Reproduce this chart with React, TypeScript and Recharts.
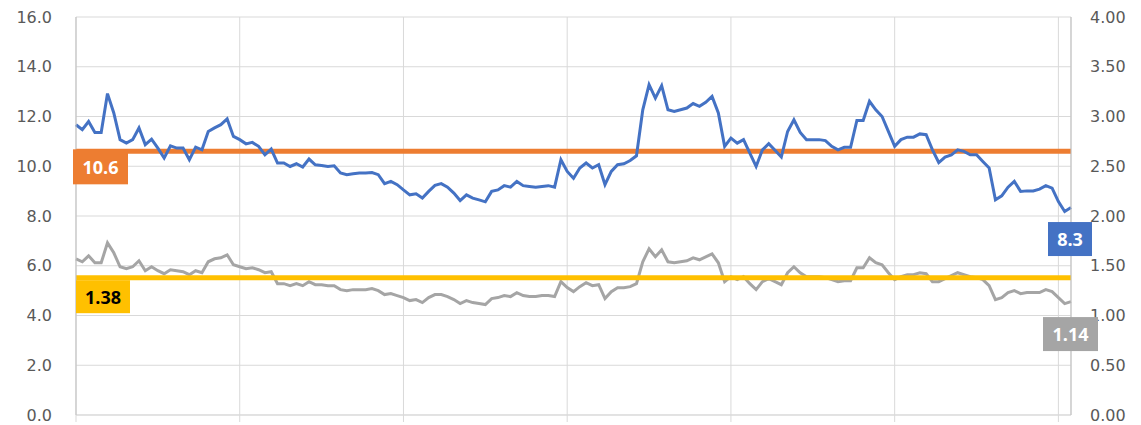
import React from 'react'
import { LineChart, Line, XAxis, YAxis, CartesianGrid } from 'recharts'

// blue series, left axis
const BLUE = [
  11.67, 11.47, 11.8, 11.36, 11.36, 12.92, 12.14, 11.07, 10.93, 11.07,
  11.54, 10.87, 11.09, 10.73, 10.33, 10.82, 10.73, 10.73, 10.26, 10.77,
  10.66, 11.4, 11.54, 11.67, 11.9, 11.2, 11.07, 10.9,
  10.96, 10.8, 10.46, 10.69, 10.13, 10.13, 9.99, 10.1, 9.97, 10.29,
  10.06, 10.03, 9.99, 10.02, 9.73, 9.66, 9.7, 9.73, 9.73, 9.75,
  9.66, 9.3, 9.39, 9.26, 9.05, 8.85, 8.89, 8.72, 8.99, 9.23,
  9.3, 9.16, 8.92, 8.62, 8.85, 8.72, 8.65, 8.57, 8.99, 9.05,
  9.22, 9.16, 9.39, 9.22, 9.19, 9.16, 9.19, 9.22, 9.16, 10.26,
  9.79, 9.52, 9.93, 10.13, 9.93, 10.06, 9.26, 9.79, 10.06, 10.1,
  10.23, 10.42, 12.27, 13.28, 12.74, 13.24, 12.27, 12.2, 12.27, 12.34,
  12.52, 12.41, 12.57, 12.81, 12.14, 10.8, 11.13, 10.93, 11.07, 10.53,
  9.99, 10.66, 10.91, 10.64, 10.37, 11.4, 11.87, 11.36, 11.07, 11.07,
  11.07, 11.03, 10.8, 10.66, 10.76, 10.76, 11.84, 11.84, 12.61, 12.27,
  12.0, 11.4, 10.8, 11.07, 11.17, 11.17, 11.3, 11.27, 10.66, 10.15,
  10.37, 10.46, 10.66, 10.6, 10.46, 10.46, 10.19, 9.93, 8.65, 8.81,
  9.16, 9.39, 8.99, 9.01, 9.01, 9.08, 9.22, 9.12, 8.58, 8.18,
  8.34,
]

// gray series, right axis
const GRAY = [
  1.57, 1.54, 1.6, 1.53, 1.53, 1.73, 1.63, 1.49, 1.47, 1.49,
  1.55, 1.45, 1.49, 1.45, 1.42, 1.46, 1.45, 1.44, 1.41, 1.45,
  1.43, 1.54, 1.57, 1.58, 1.61, 1.51, 1.49, 1.47,
  1.48, 1.46, 1.43, 1.44, 1.32, 1.32, 1.3, 1.32, 1.3, 1.34,
  1.31, 1.31, 1.3, 1.3, 1.26, 1.25, 1.26, 1.26, 1.26, 1.27,
  1.25, 1.21, 1.22, 1.2, 1.18, 1.15, 1.16, 1.13, 1.18, 1.21,
  1.21, 1.19, 1.16, 1.12, 1.15, 1.13, 1.12, 1.11, 1.17, 1.18,
  1.2, 1.19, 1.23, 1.2, 1.19, 1.19, 1.2, 1.2, 1.19, 1.34,
  1.28, 1.24, 1.29, 1.33, 1.3, 1.31, 1.17, 1.24, 1.28, 1.28,
  1.29, 1.32, 1.54, 1.67, 1.59, 1.66, 1.54, 1.53, 1.54, 1.55,
  1.58, 1.56, 1.59, 1.62, 1.53, 1.34, 1.39, 1.36, 1.39, 1.32,
  1.26, 1.34, 1.37, 1.34, 1.31, 1.43, 1.49, 1.43, 1.39, 1.39,
  1.39, 1.38, 1.36, 1.34, 1.35, 1.35, 1.48, 1.48, 1.58, 1.53,
  1.51, 1.43, 1.36, 1.39, 1.41, 1.41, 1.43, 1.42, 1.34, 1.34,
  1.37, 1.4, 1.43, 1.41, 1.39, 1.38, 1.36, 1.3, 1.16, 1.18,
  1.23, 1.25, 1.22, 1.23, 1.23, 1.23, 1.26, 1.24, 1.18, 1.12,
  1.14,
]

const ORANGE_LEVEL = 10.6 // left axis
const YELLOW_LEVEL = 1.38 // right axis

const LEFT_TICKS = [0, 2, 4, 6, 8, 10, 12, 14, 16]
const RIGHT_TICKS = [0, 0.5, 1, 1.5, 2, 2.5, 3, 3.5, 4]
const X_TICKS = [0, 26, 52, 78, 104, 130, 156]

const data = BLUE.map((v, i) => ({
  i,
  blue: v,
  gray: GRAY[i],
  orange: ORANGE_LEVEL,
  yellow: YELLOW_LEVEL,
}))
const LAST = data.length - 1

const tickStyle = { fontFamily: 'DejaVu Sans', fontSize: 16, fill: '#595959' }

// little Excel-style value box, drawn for one point of a series only
function tag(atIndex: number, text: string, fill: string, color: string, dx: number, dy: number, w: number, h: number) {
  return (props: any) => {
    if (props.index !== atIndex) return null
    const x = Number(props.x) + dx
    const y = Number(props.y) + dy
    return (
      <g>
        <rect x={x} y={y} width={w} height={h} fill={fill} />
        <text
          x={x + w / 2}
          y={y + h / 2}
          textAnchor="middle"
          dominantBaseline="central"
          fontFamily="Open Sans"
          fontWeight={700}
          fontSize={18}
          fill={color}
        >
          {text}
        </text>
      </g>
    )
  }
}

export default function App() {
  return (
    <div style={{ position: 'absolute', left: 0, top: 0, background: '#fff' }}>
      <LineChart width={1141} height={425} data={data} margin={{ top: 17, right: 0, bottom: 0, left: 0 }}>
        <CartesianGrid yAxisId="left" stroke="#D9D9D9" strokeWidth={1} />
        <XAxis
          dataKey="i"
          type="number"
          domain={[0, LAST]}
          ticks={X_TICKS}
          height={10}
          tickFormatter={() => ''}
          tickSize={7}
          tickLine={{ stroke: '#D9D9D9' }}
          axisLine={{ stroke: '#D9D9D9' }}
        />
        <YAxis
          yAxisId="left"
          orientation="left"
          domain={[0, 16]}
          ticks={LEFT_TICKS}
          width={76}
          tickLine={false}
          tickSize={0}
          tickMargin={24}
          axisLine={{ stroke: '#BFBFBF' }}
          tick={tickStyle}
          tickFormatter={(v: number) => v.toFixed(1)}
        />
        <YAxis
          yAxisId="right"
          orientation="right"
          domain={[0, 4]}
          ticks={RIGHT_TICKS}
          width={70}
          tickLine={false}
          tickSize={0}
          tickMargin={19}
          axisLine={{ stroke: '#BFBFBF' }}
          tick={{ ...tickStyle, textAnchor: 'start' }}
          tickFormatter={(v: number) => v.toFixed(2)}
        />
        <Line
          yAxisId="right"
          dataKey="gray"
          stroke="#A5A5A5"
          strokeWidth={3}
          dot={false}
          isAnimationActive={false}
          label={tag(LAST, GRAY[LAST].toFixed(2), '#A5A5A5', '#fff', -28, 15.5, 55, 34)}
        />
        <Line
          yAxisId="right"
          dataKey="yellow"
          stroke="#FFC000"
          strokeWidth={5}
          dot={false}
          isAnimationActive={false}
          label={tag(0, YELLOW_LEVEL.toFixed(2), '#FFC000', '#000', 0, 2.5, 54, 33)}
        />
        <Line
          yAxisId="left"
          dataKey="orange"
          stroke="#ED7D31"
          strokeWidth={5}
          dot={false}
          isAnimationActive={false}
          label={tag(0, ORANGE_LEVEL.toFixed(1), '#ED7D31', '#fff', -3, -2, 55, 35)}
        />
        <Line
          yAxisId="left"
          dataKey="blue"
          stroke="#4472C4"
          strokeWidth={3}
          dot={false}
          isAnimationActive={false}
          label={tag(LAST, BLUE[LAST].toFixed(1), '#4472C4', '#fff', -23, 14.5, 44, 34)}
        />
      </LineChart>
    </div>
  )
}
